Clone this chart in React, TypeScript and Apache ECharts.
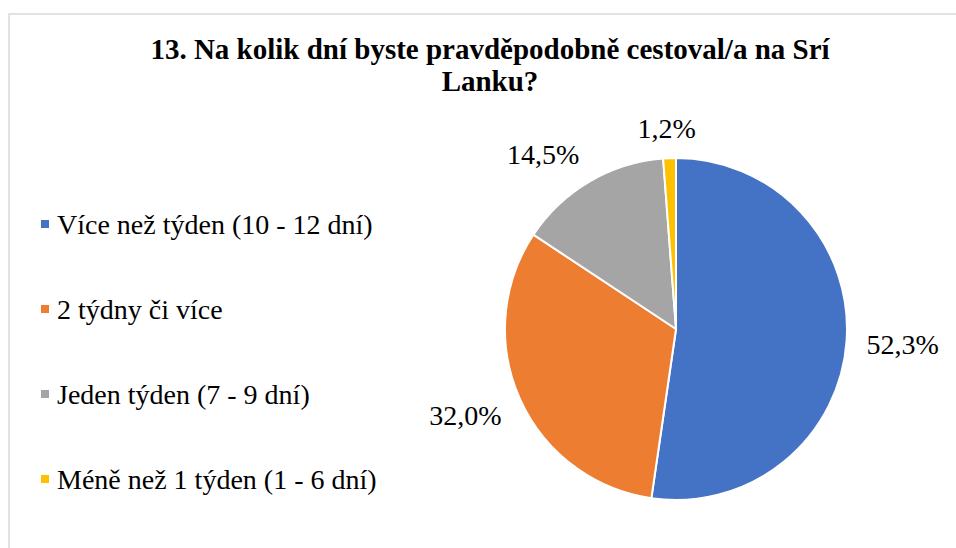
import React, { useEffect, useRef } from "react";
import * as echarts from "echarts";

const titleText = "13. Na kolik dní byste pravděpodobně cestoval/a na Srí\nLanku?";
const categories = [
  "Více než týden (10 - 12 dní)",
  "2 týdny či více",
  "Jeden týden (7 - 9 dní)",
  "Méně než 1 týden (1 - 6 dní)",
];
const values = [52.3, 32.0, 14.5, 1.2];
const colors = ["#4472C4", "#ED7D31", "#A5A5A5", "#FFC000"];

const FONT = "Liberation Serif";
const CENTER = [676, 329];
const RADIUS = 171;
const LABEL_GAP = 20;
const LABEL_SIZE = 28;

export default function App() {
  const ref = useRef<HTMLDivElement>(null);

  useEffect(() => {
    if (!ref.current) return;
    const chart = echarts.init(ref.current, null, { renderer: "svg" });
    const total = values.reduce((a, b) => a + b, 0);
    const clamp = (v: number) => Math.max(-1, Math.min(1, v * 2));

    chart.setOption({
      animation: false,
      backgroundColor: "#ffffff",
      title: {
        text: titleText,
        left: 485,
        top: 28,
        textAlign: "center",
        textStyle: {
          fontFamily: FONT,
          fontSize: 29,
          fontWeight: "bold",
          color: "#000000",
          lineHeight: 32,
        },
      },
      legend: {
        orient: "vertical",
        left: 34,
        top: 205,
        icon: "rect",
        itemWidth: 10,
        itemHeight: 10,
        itemGap: 57,
        data: categories,
        textStyle: {
          fontFamily: FONT,
          fontSize: 28,
          lineHeight: 28,
          color: "#000000",
          padding: [0, 0, 0, 2],
        },
      },
      graphic: [
        {
          type: "rect",
          shape: { x: 9, y: 14, width: 1000, height: 600 },
          style: { fill: "none", stroke: "#d9d9d9", lineWidth: 1.5 },
          silent: true,
        },
      ],
      series: [
        {
          type: "pie",
          center: CENTER,
          radius: RADIUS,
          startAngle: 90,
          clockwise: true,
          data: categories.map((name, i) => ({
            name,
            value: values[i],
            itemStyle: { color: colors[i] },
          })),
          itemStyle: { borderColor: "#ffffff", borderWidth: 2 },
          label: {
            show: true,
            position: "outside",
            overflow: "none",
            formatter: (p: any) => p.value.toFixed(1).replace(".", ",") + "%",
            fontFamily: FONT,
            fontSize: LABEL_SIZE,
            color: "#000000",
          },
          labelLine: { show: false },
          labelLayout: (params: any) => {
            const idx = params.dataIndex;
            let cum = 0;
            for (let i = 0; i < idx; i++) cum += values[i];
            const mid = ((cum + values[idx] / 2) / total) * Math.PI * 2;
            const ux = Math.sin(mid);
            const uy = -Math.cos(mid);
            const px = CENTER[0] + (RADIUS + LABEL_GAP) * ux;
            const py = CENTER[1] + (RADIUS + LABEL_GAP) * uy;
            const w = params.labelRect.width;
            return {
              x: px + (w / 2) * clamp(ux),
              y: py + LABEL_SIZE * 0.36 * clamp(uy),
              align: "center",
              verticalAlign: "middle",
            };
          },
          emphasis: { disabled: true },
        },
      ],
    });
    return () => chart.dispose();
  }, []);

  return (
    <div
      ref={ref}
      style={{ position: "absolute", left: 0, top: 0, width: 956, height: 548 }}
    />
  );
}
